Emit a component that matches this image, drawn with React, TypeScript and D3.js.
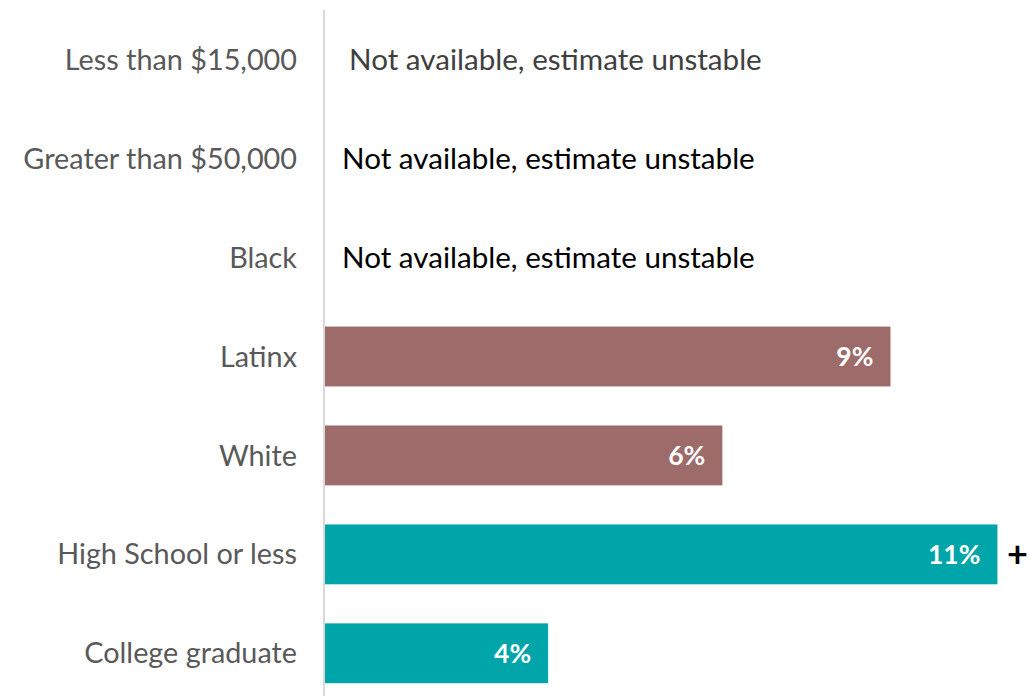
import React from 'react';
import * as d3 from 'd3';

const categories = [
    'Less than $15,000',
    'Greater than $50,000',
    'Black',
    'Latinx',
    'White',
    'High School or less',
    'College graduate',
];
// null = not available, estimate unstable
const values: (number | null)[] = [null, null, null, 9.25, 6.5, 11.0, 3.65];
const valueLabels = ['', '', '', '9%', '6%', '11%', '4%'];
const groups = ['', '', '', 'race', 'race', 'edu', 'edu'];
const markers = ['', '', '', '', '', '+', ''];
const naText = 'Not available, estimate unstable';

const colors: Record<string, string> = { race: '#9c6b6a', edu: '#00a5aa' };

const width = 1030;
const height = 696;
const font = 'Lato, "Open Sans", sans-serif';

export default function App() {
    const x = d3.scaleLinear().domain([0, 11.5]).range([325, 1028]);
    const y = d3.scaleBand<string>().domain(categories).range([10, 703]).paddingInner(0.395).paddingOuter(0.2);

    return (
        <svg width={width} height={height} style={{ position: 'absolute', left: 0, top: 0, background: '#fff' }}>
            {categories.map((c, i) => {
                const v = values[i];
                const yy = y(c)!;
                const bw = y.bandwidth();
                const cy = yy + bw / 2;
                return (
                    <g key={c}>
                        <text x={297} y={cy} dy="0.35em" textAnchor="end" fontFamily={font} fontSize={28.8} fill="#595959">
                            {c}
                        </text>
                        {v == null ? (
                            <text x={i === 0 ? 349 : 342} y={cy} dy="0.35em" fontFamily={font} fontSize={29.6}
                                fill={i === 0 ? '#404040' : '#000'}>
                                {naText}
                            </text>
                        ) : (
                            <>
                                <rect x={x(0)} y={yy} width={x(v) - x(0)} height={bw} fill={colors[groups[i]]} />
                                <text x={x(v) - 17} y={cy} dy="0.35em" textAnchor="end" fontFamily={font}
                                    fontSize={26.5} fontWeight="bold" fill="#fff">
                                    {valueLabels[i]}
                                </text>
                                {markers[i] && (
                                    <text x={x(v) + 20} y={cy} dy="0.35em" textAnchor="middle" fontFamily={font}
                                        fontSize={36} fontWeight="bold" fill="#000">
                                        {markers[i]}
                                    </text>
                                )}
                            </>
                        )}
                    </g>
                );
            })}
            <line x1={324} x2={324} y1={10} y2={696} stroke="#d9d9d9" strokeWidth={2} />
        </svg>
    );
}
